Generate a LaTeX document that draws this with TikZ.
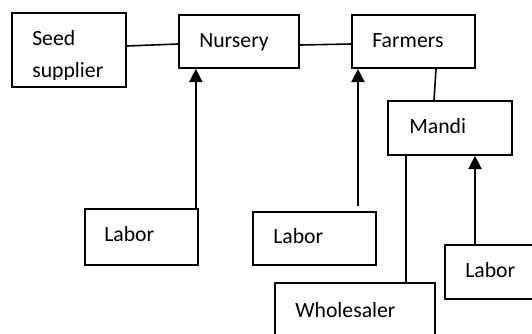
\documentclass[tikz,border=0pt]{standalone}
\usepackage{fontspec}
\setmainfont{Carlito}
\usetikzlibrary{arrows.meta,calc,fit}
\begin{document}
\begin{tikzpicture}[x=0.75pt,y=-0.75pt,
  box/.style={draw,line width=1.3pt,inner sep=0pt},
  lbl/.style={anchor=base west,inner sep=0pt,font=\fontsize{16.3}{19.6}\selectfont},
  conn/.style={line width=1.2pt},
  arr/.style={line width=1.2pt,-{Triangle[width=10pt,length=10pt]}}]
\useasboundingbox (0,0) rectangle (532,333);
\clip (0,0) rectangle (532,333);
% boxes
\node[box,fit={(12,13) (126,87)}] (seed) {};
\node[box,fit={(179,15) (299,68)}] (nursery) {};
\node[box,fit={(352,15) (475,68)}] (farmers) {};
\node[box,fit={(388,101) (512,155)}] (mandi) {};
\node[box,fit={(85,209) (198,265)}] (labor1) {};
\node[box,fit={(253,212) (376,265)}] (labor2) {};
\node[box,fit={(275,283) (435,350)}] (wholesaler) {};
\node[box,fit={(445,245) (550,299)}] (labor3) {};
% texts
\node[lbl] (tseed) at (32,45) {Seed};
\begin{scope}
\clip (12,13) rectangle (126,79);
\node[lbl] (tsupp) at (32,77) {supplier};
\end{scope}
\node[lbl] (tnurs) at (199,47) {Nursery};
\node[lbl] (tfarm) at (372,47) {Farmers};
\node[lbl] (tmandi) at (409,133) {Mandi};
\node[lbl] (tl1) at (104,241) {Labor};
\node[lbl] (tl2) at (273,243) {Labor};
\node[lbl] (twhole) at (295,317) {Wholesaler};
\node[lbl] (tl3) at (465,277) {Labor};
% connectors
\draw[conn] ($(seed.east)+(0,-4)$) -- ($(nursery.west)+(0,2.5)$);
\draw[conn] ($(nursery.east)+(0,3.5)$) -- ($(farmers.west)+(0,2.5)$);
\draw[conn] ($(farmers.south)+(22.5,0)$) -- ($(mandi.north)+(-16,0)$);
\coordinate (a1) at ($(labor1.north east)+(-3,0)$);
\draw[arr] (a1) -- (a1 |- nursery.south);
\coordinate (a2) at ($(labor2.north)+(43.5,-5)$);
\draw[arr] (a2) -- (a2 |- farmers.south);
\coordinate (w1) at ($(mandi.south)+(-44,0)$);
\draw[conn] (w1) -- (w1 |- wholesaler.north);
\coordinate (a3) at ($(labor3.north)+(-22.5,0)$);
\draw[arr] (a3) -- (a3 |- mandi.south);
\end{tikzpicture}
\end{document}
